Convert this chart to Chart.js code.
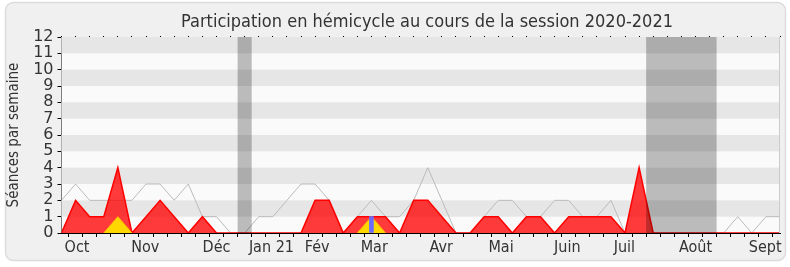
<!DOCTYPE html>
<html lang="fr">
<head>
<meta charset="utf-8">
<title>Participation en hémicycle 2020-2021</title>
<script src="https://cdn.jsdelivr.net/npm/chart.js@4/dist/chart.umd.min.js"></script>
<style>
  html, body { margin: 0; padding: 0; background: #fff; }
</style>
</head>
<body>
<canvas id="participationChart" width="790" height="267"></canvas>
<script>
// Semaines de la session : index 0 = semaine du lundi 28 sept. 2020
const semaines = [
    0, 1, 2, 3, 4, 5, 6, 7, 8, 9, 10, 11, 12, 13, 14, 15, 16, 17, 18, 19, 20, 21, 22, 23, 24, 25,
    26, 27, 28, 29, 30, 31, 32, 33, 34, 35, 36, 37, 38, 39, 40, 41, 42, 43, 44, 45, 46, 47, 48, 49, 50, 51
];

// séances de l'hémicycle par semaine (ligne grise)
const seancesTotales = [
    2, 3, 2, 2, 2, 2, 3, 3, 2, 3, 1, 1, 0, 0, 1, 1, 2, 3, 3, 2, 0, 1, 2, 1, 1, 2,
    4, 2, 0, 0, 1, 2, 2, 1, 1, 2, 2, 1, 1, 2, 0, 0, 0, 0, 0, 0, 0, 0, 1, 0, 1, 1
];

// présences du député (zone rouge)
const presences = [
    0, 2, 1, 1, 4, 0, 1, 2, 1, 0, 1, 0, 0, 0, 0, 0, 0, 0, 2, 2, 0, 1, 1, 1, 0, 2,
    2, 1, 0, 0, 1, 1, 0, 1, 1, 0, 1, 1, 1, 1, 0, 4, 0, 0, 0, 0, 0, 0, 0, 0, 0, 0
];

// interventions (zone jaune)
const interventions = [
    null, null, null, 0, 1, 0, null, null, null, null, null, null, null, null, null, null, null, null, null, null, null, 0, 1, 0, null, null,
    null, null, null, null, null, null, null, null, null, null, null, null, null, null, null, null, null, null, null, null, null, null, null, null, null, null
];

// questions (barre bleue)
const questions = [
    null, null, null, null, null, null, null, null, null, null, null, null, null, null, null, null, null, null, null, null, null, null, 1, null, null, null,
    null, null, null, null, null, null, null, null, null, null, null, null, null, null, null, null, null, null, null, null, null, null, null, null, null, null
];

// vacances parlementaires (en semaines)
const vacances = [[12.5, 13.5], [41.5, 46.5]];

// libellés des mois et leur position sur l'axe des semaines
const moisLabels = ['Oct', 'Nov', 'Déc', 'Jan 21', 'Fév', 'Mar', 'Avr', 'Mai', 'Juin', 'Juil', 'Août', 'Sept'];
const moisPositions = [1.1, 5.95, 11, 14.9, 18.15, 22.2, 26.95, 31.2, 35.9, 39.95, 45, 49.95];

const FONT = '"DejaVu Sans Condensed", "DejaVu Sans", sans-serif';
const FONT_NUM = '"DejaVu Sans", sans-serif';
const TEXT_COLOR = '#333';

// fond arrondi, bandes horizontales, titre
const decorPlugin = {
    id: 'decor',
    beforeDraw(chart) {
        const ctx = chart.ctx;
        ctx.save();
        ctx.fillStyle = '#fff';
        ctx.fillRect(0, 0, chart.width, chart.height);
        ctx.beginPath();
        ctx.roundRect(5.5, 2.5, 780, 258, 8);
        ctx.fillStyle = '#F0F0F0';
        ctx.fill();
        ctx.strokeStyle = '#DCDCDC';
        ctx.lineWidth = 1.5;
        ctx.stroke();

        ctx.fillStyle = TEXT_COLOR;
        ctx.font = '18px ' + FONT;
        ctx.textAlign = 'center';
        ctx.textBaseline = 'alphabetic';
        ctx.fillText('Participation en hémicycle au cours de la session 2020-2021', 427, 27);
        ctx.restore();
    },
    beforeDatasetsDraw(chart) {
        const { ctx, chartArea: a, scales: { y } } = chart;
        ctx.save();
        ctx.fillStyle = '#FAFAFA';
        ctx.fillRect(a.left, a.top, a.right - a.left, a.bottom - a.top);
        ctx.fillStyle = '#E6E6E6';
        for (let k = 1; k < 12; k += 2) {
            const top = y.getPixelForValue(k + 1);
            const bottom = y.getPixelForValue(k);
            ctx.fillRect(a.left, top, a.right - a.left, bottom - top);
        }
        ctx.restore();
    },
    afterDatasetsDraw(chart) {
        const { ctx, chartArea: a, scales: { x } } = chart;
        ctx.save();
        ctx.fillStyle = 'rgba(0, 0, 0, 0.25)';
        vacances.forEach(([debut, fin]) => {
            const x0 = x.getPixelForValue(debut);
            const x1 = x.getPixelForValue(fin);
            ctx.fillRect(x0, a.top, x1 - x0, a.bottom - a.top);
        });
        ctx.strokeStyle = '#CCCCCC';
        ctx.lineWidth = 1;
        ctx.beginPath();
        ctx.moveTo(Math.round(a.right) - 0.5, a.top);
        ctx.lineTo(Math.round(a.right) - 0.5, a.bottom);
        ctx.stroke();
        ctx.restore();
    }
};

new Chart(document.getElementById('participationChart'), {
    type: 'line',
    data: {
        labels: semaines,
        datasets: [
            {
                type: 'bar',
                label: 'Questions',
                data: questions,
                backgroundColor: '#6B6BFF',
                barThickness: 4,
                order: 0
            },
            {
                label: 'Interventions',
                data: interventions,
                borderColor: '#FFC000',
                backgroundColor: '#FFD700',
                borderWidth: 1,
                fill: 'origin',
                pointRadius: 0,
                tension: 0,
                order: 1
            },
            {
                label: 'Présences',
                data: presences,
                borderColor: '#FF0000',
                backgroundColor: 'rgba(255, 0, 0, 0.77)',
                borderWidth: 1.5,
                fill: 'origin',
                pointRadius: 0,
                tension: 0,
                clip: 0,
                order: 2
            },
            {
                label: 'Séances',
                data: seancesTotales,
                borderColor: '#BBBBBB',
                borderWidth: 1,
                fill: false,
                pointRadius: 0,
                tension: 0,
                order: 3
            }
        ]
    },
    options: {
        responsive: false,
        animation: false,
        layout: { padding: { left: 0, right: 10, top: 35, bottom: 0 } },
        plugins: {
            legend: { display: false },
            tooltip: { enabled: false }
        },
        scales: {
            x: {
                type: 'linear',
                position: 'bottom',
                min: 0,
                max: 51,
                offset: false,
                z: 1,
                ticks: { stepSize: 1, display: false },
                grid: { drawOnChartArea: false, color: '#000', tickLength: 4 },
                border: { color: '#000' },
                afterFit: s => { s.height = 4; }
            },
            mois: {
                type: 'linear',
                position: 'bottom',
                min: 0,
                max: 51,
                offset: false,
                afterBuildTicks: s => { s.ticks = moisPositions.map(v => ({ value: v })); },
                ticks: {
                    autoSkip: false,
                    maxRotation: 0,
                    padding: 1,
                    color: TEXT_COLOR,
                    font: { family: FONT, size: 16 },
                    callback: (v, i) => moisLabels[i]
                },
                grid: { display: false, drawTicks: false },
                border: { display: false },
                afterFit: s => { s.height = 30; }
            },
            haut: {
                type: 'linear',
                position: 'top',
                min: 0,
                max: 51,
                offset: false,
                ticks: { stepSize: 1, display: false },
                grid: { drawOnChartArea: false, color: '#000', tickLength: 1 },
                border: { display: false },
                afterFit: s => { s.height = 2; }
            },
            y: {
                min: 0,
                max: 12,
                z: 1,
                ticks: {
                    stepSize: 1,
                    autoSkip: false,
                    padding: 4,
                    color: TEXT_COLOR,
                    font: { family: FONT_NUM, size: 16 }
                },
                grid: { drawOnChartArea: false, color: '#000', tickLength: 4 },
                border: { color: '#000' },
                title: {
                    display: true,
                    text: 'Séances par semaine',
                    color: TEXT_COLOR,
                    font: { family: FONT, size: 15 },
                    padding: { top: 5, bottom: 0 }
                },
                afterFit: s => { s.width = 61.5; }
            }
        }
    },
    plugins: [decorPlugin]
});
</script>
</body>
</html>
